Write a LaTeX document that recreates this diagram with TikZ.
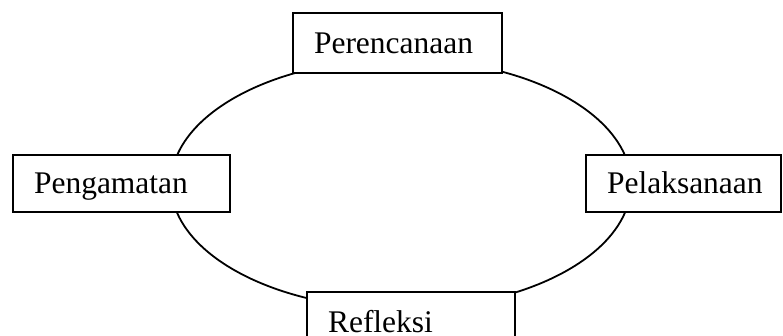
\documentclass[tikz,border=0pt]{standalone}
\usepackage{fontspec}
\setmainfont{Liberation Serif}
\usetikzlibrary{shapes.geometric}
\begin{document}
\begin{tikzpicture}[x=1pt,y=-1pt,
  stagebox/.style={draw=black, line width=1.8pt, fill=white, rectangle,
    inner xsep=21pt, inner ysep=0pt, align=left,
    text height=25.2pt, text depth=5.2pt,
    font=\fontsize{31.5}{36}\selectfont}]
\useasboundingbox (0,0) rectangle (783,335);
\clip (0,0) rectangle (783,335);
\node[draw=black, line width=1.8pt, ellipse, minimum width=460pt, minimum height=250pt, inner sep=0pt] (cycle) at (401,184) {};
\node[stagebox, text width=167pt, minimum height=60pt] (plan) at (397.5,43) {Perencanaan};
\node[stagebox, text width=175pt, minimum height=57pt] (obs) at (121.5,183.5) {Pengamatan};
\node[stagebox, text width=153pt, minimum height=57pt] (act) at (683.5,183.5) {Pelaksanaan};
\node[stagebox, text width=166pt, minimum height=60pt] (refl) at (411,322) {Refleksi};
\end{tikzpicture}
\end{document}
